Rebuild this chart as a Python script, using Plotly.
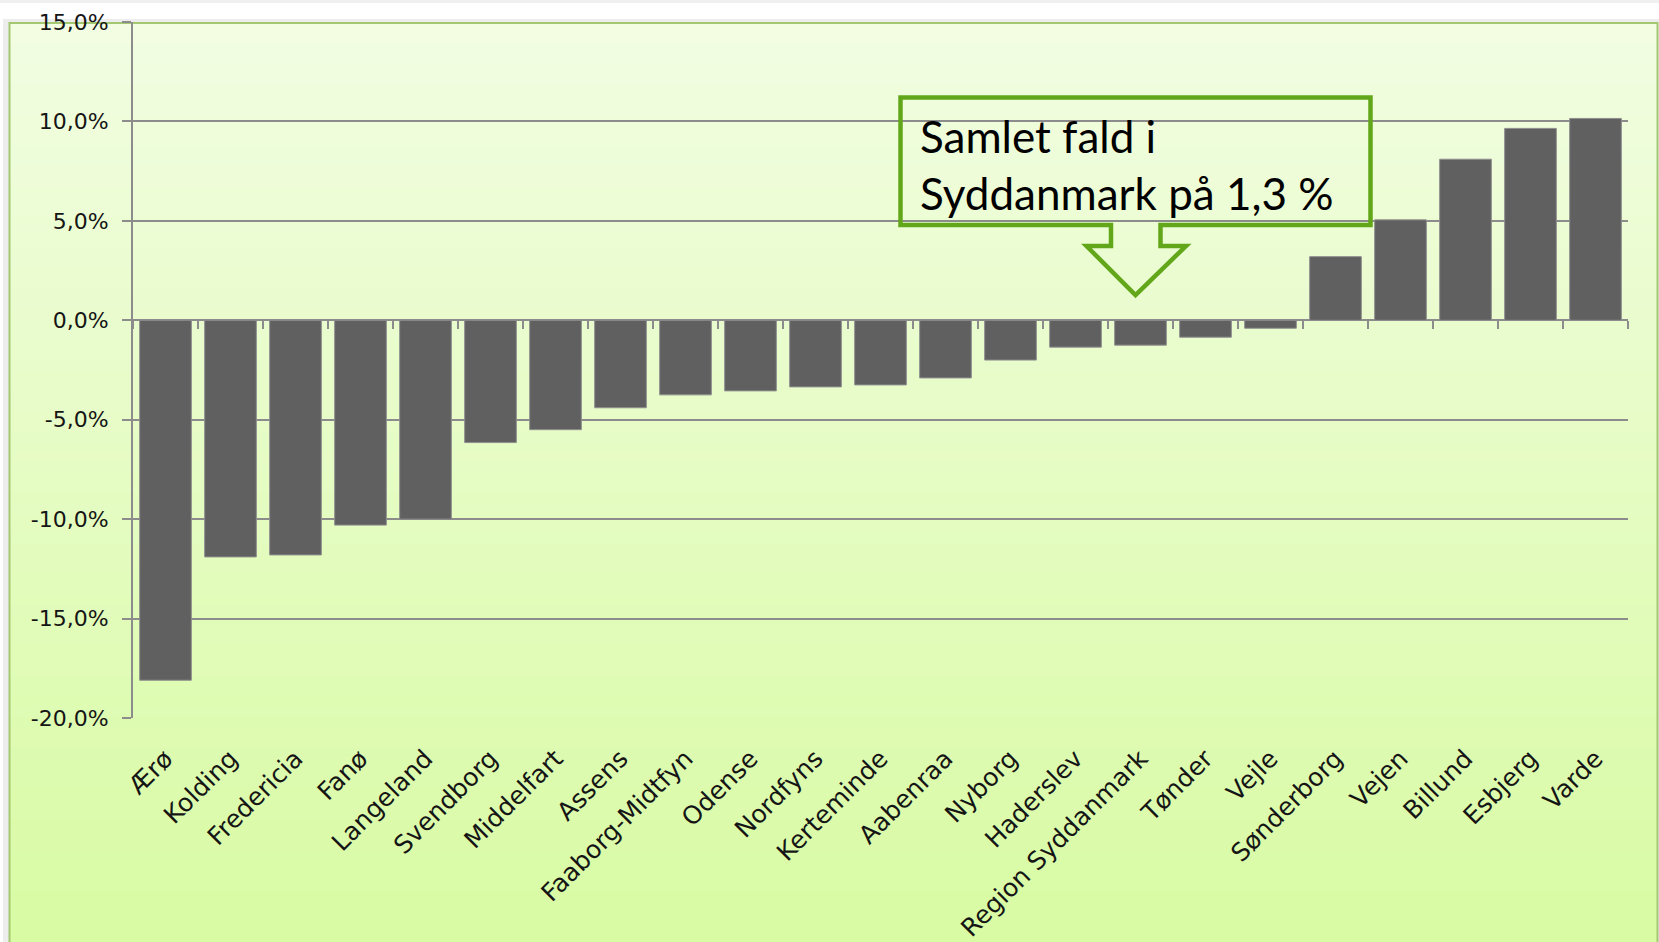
import plotly.graph_objects as go

# ---- data ----
categories = ["Ærø", "Kolding", "Fredericia", "Fanø", "Langeland", "Svendborg",
              "Middelfart", "Assens", "Faaborg-Midtfyn", "Odense", "Nordfyns",
              "Kerteminde", "Aabenraa", "Nyborg", "Haderslev", "Region Syddanmark",
              "Tønder", "Vejle", "Sønderborg", "Vejen", "Billund", "Esbjerg", "Varde"]
values = [-18.1, -11.9, -11.8, -10.3, -10.0, -6.15,
          -5.5, -4.4, -3.75, -3.55, -3.35,
          -3.25, -2.9, -2.0, -1.35, -1.25,
          -0.85, -0.4, 3.2, 5.05, 8.1, 9.65, 10.15]
y_tick_vals = [-20, -15, -10, -5, 0, 5, 10, 15]
y_tick_text = ["-20,0%", "-15,0%", "-10,0%", "-5,0%", "0,0%", "5,0%", "10,0%", "15,0%"]
callout_lines = ["Samlet fald i", "Syddanmark på 1,3 %"]

# ---- layout geometry (pixels) ----
W, H = 1659, 942
L, R, T, B = 133, 31, 22, 224
PW, PH = W - L - R, H - T - B


def px_x(px):
    return (px - L) / PW


def px_y(py):
    return (H - B - py) / PH


GRID = "#8c8c8c"
TXT = "#151515"
x_range = [-0.5, len(categories) - 0.5]

fig = go.Figure()
fig.add_trace(go.Bar(
    x=categories, y=values,
    marker=dict(color="#606060", line=dict(color="#8f8f8f", width=1)),
    hoverinfo="x+y", showlegend=False,
))
# helper trace for the zero-line tick axis
fig.add_trace(go.Scatter(
    x=categories, y=values, xaxis="x2", mode="markers",
    marker=dict(opacity=0), hoverinfo="skip", showlegend=False,
))

shapes = []
# faint shadow line at very top of page
shapes.append(dict(type="rect", xref="paper", yref="paper",
                   x0=px_x(0), x1=px_x(1659), y0=px_y(3), y1=px_y(0),
                   fillcolor="rgba(0,0,0,0.06)", line=dict(width=0), layer="below"))
# drop shadow of chart box
shapes.append(dict(type="rect", xref="paper", yref="paper",
                   x0=px_x(3), x1=px_x(1659), y0=px_y(943), y1=px_y(19),
                   fillcolor="rgba(0,0,0,0.07)", line=dict(width=0), layer="below"))
# gradient background box
top_c = (242, 253, 226)
bot_c = (216, 251, 163)
y_top, y_bot = 23, 942
N = 90
for i in range(N):
    a = y_top + (y_bot - y_top) * i / N
    b = y_top + (y_bot - y_top) * (i + 1) / N
    t = (i + 0.5) / N
    c = tuple(round(top_c[k] + (bot_c[k] - top_c[k]) * t) for k in range(3))
    shapes.append(dict(type="rect", xref="paper", yref="paper",
                       x0=px_x(9), x1=px_x(1658), y0=px_y(b + 0.6), y1=px_y(a),
                       fillcolor="rgb(%d,%d,%d)" % c, line=dict(width=0), layer="below"))
# green border of chart box
shapes.append(dict(type="rect", xref="paper", yref="paper",
                   x0=px_x(9.5), x1=px_x(1657.5), y0=px_y(960), y1=px_y(23),
                   fillcolor="rgba(0,0,0,0)", line=dict(color="#a4c872", width=2), layer="below"))

# callout (box with down arrow)
bx0, bx1, by0, by1 = px_x(900.5), px_x(1370.5), px_y(97.5), px_y(225)
sx0, sx1, sy = px_x(1111), px_x(1160.5), px_y(246)
wx0, wx1 = px_x(1086.5), px_x(1186)
tx, ty = px_x(1135.5), px_y(295)
path = (f"M {bx0},{by0} L {bx1},{by0} L {bx1},{by1} L {sx1},{by1} L {sx1},{sy} "
        f"L {wx1},{sy} L {tx},{ty} L {wx0},{sy} L {sx0},{sy} L {sx0},{by1} "
        f"L {bx0},{by1} Z")
shapes.append(dict(type="path", xref="paper", yref="paper", path=path,
                   line=dict(color="#62a61a", width=4.5), fillcolor="rgba(0,0,0,0)",
                   layer="above"))

annotations = [
    dict(text=callout_lines[0], xref="paper", yref="paper", x=px_x(918), y=px_y(136),
         xanchor="left", yanchor="middle", showarrow=False,
         font=dict(family="Lato", size=44, color="#000000")),
    dict(text=callout_lines[1], xref="paper", yref="paper", x=px_x(918), y=px_y(193),
         xanchor="left", yanchor="middle", showarrow=False,
         font=dict(family="Lato", size=44, color="#000000")),
]

fig.update_layout(
    width=W, height=H,
    margin=dict(l=L, r=R, t=T, b=B, pad=0, autoexpand=False),
    paper_bgcolor="white",
    plot_bgcolor="rgba(0,0,0,0)",
    bargap=0.205,
    shapes=shapes,
    annotations=annotations,
    font=dict(family="DejaVu Sans", color=TXT),
    xaxis=dict(
        type="category", categoryorder="array", categoryarray=categories,
        range=x_range, automargin=False,
        tickangle=-45, tickfont=dict(family="DejaVu Sans", size=25, color=TXT),
        showgrid=False, zeroline=False, showline=False, ticks="",
        ticklabelstandoff=20,
    ),
    xaxis2=dict(
        type="category", categoryorder="array", categoryarray=categories,
        range=x_range, automargin=False,
        overlaying="x", anchor="free", position=20 / 35,
        showticklabels=False, showgrid=False, zeroline=False, showline=False,
        ticks="outside", tickson="boundaries", ticklen=8, tickwidth=2, tickcolor=GRID,
    ),
    yaxis=dict(
        range=[-20, 15], tickvals=y_tick_vals, ticktext=y_tick_text, automargin=False,
        tickfont=dict(family="DejaVu Sans", size=22, color=TXT),
        showgrid=True, gridcolor=GRID, gridwidth=2,
        zeroline=False, showline=True, linecolor=GRID, linewidth=2,
        ticks="outside", ticklen=9, tickwidth=2, tickcolor=GRID,
        ticklabelstandoff=9,
    ),
)

fig.write_html("out.html", config={"displayModeBar": False},
               post_script="document.body.style.margin='0';document.body.style.overflow='hidden';")
